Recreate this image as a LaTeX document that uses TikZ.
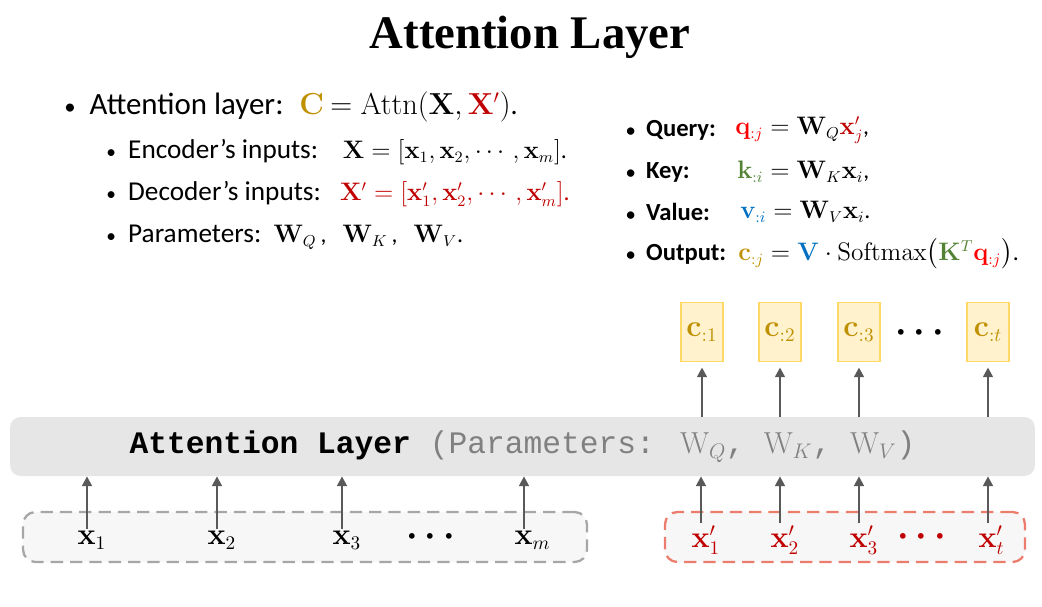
\documentclass[tikz,border=0pt]{standalone}
\usepackage[no-math]{fontspec}
\usepackage{amsmath}
\setmainfont{Carlito}
\newfontfamily\titlefont{Liberation Serif}
\newfontfamily\codefont{Liberation Mono}
\usetikzlibrary{arrows.meta}
\definecolor{gold}{HTML}{BF9000}
\definecolor{dred}{HTML}{C00000}
\definecolor{qred}{HTML}{FF0000}
\definecolor{kgreen}{HTML}{548235}
\definecolor{vblue}{HTML}{0070C0}
\definecolor{arrgray}{HTML}{595959}
\definecolor{layerfill}{HTML}{E6E6E6}
\definecolor{cfill}{HTML}{FFF2CC}
\definecolor{cdraw}{HTML}{FFD966}
\definecolor{dgray}{HTML}{A6A6A6}
\definecolor{dsalmon}{HTML}{EC7C6C}
\definecolor{infill}{HTML}{F7F7F7}
\definecolor{partext}{HTML}{808080}
\newcommand{\rsub}[1]{_{\rlap{$\scriptstyle #1$}}}
\newcommand{\xp}[1]{\mathbf{x}^{\rlap{$\scriptstyle\prime$}}_{\rlap{$\scriptstyle #1$}}}
\newcommand{\bul}[1]{{\fontsize{#1}{10}\selectfont\textbullet}\hspace{0.45em}}
\newcommand{\mth}[2]{{\fontsize{#1}{18}\selectfont #2}}
\tikzset{
  txt/.style={anchor=west, inner sep=0pt},
  big/.style={font=\fontsize{17.6}{21}\selectfont},
  small/.style={font=\fontsize{15.5}{19}\selectfont},
  rbul/.style={font=\fontsize{14}{16}\selectfont\bfseries},
  rmath/.style={anchor=west, inner sep=0pt, font=\fontsize{13.5}{16}\selectfont},
  cbox/.style={draw=cdraw, fill=cfill, line width=0.8pt, minimum width=0.84cm, minimum height=1.18cm, inner sep=0pt, text=gold, font=\fontsize{16}{18}\selectfont},
  layerbox/.style={fill=layerfill, rounded corners=6pt, minimum width=20.5cm, minimum height=1.18cm, inner sep=0pt},
  inbox/.style={dashed, dash pattern=on 7pt off 4pt, line width=1.3pt, fill=infill, rounded corners=7pt, minimum height=1cm, inner sep=0pt},
  inlab/.style={font=\fontsize{16}{18}\selectfont, inner sep=1pt},
  arr/.style={draw=arrgray, line width=1.3pt, -{Triangle[length=5.5pt,width=5.5pt]}},
  dotsn/.style={font=\fontsize{20}{22}\selectfont, inner sep=0pt}
}
\begin{document}
\begin{tikzpicture}[x=0.02cm, y=-0.02cm]
\useasboundingbox (0,0) rectangle (1042,606);
% title
\node (title) at (530,37) {\titlefont\bfseries\fontsize{26.6}{30}\selectfont Attention Layer};
% left bullets
\node[txt, big] (b1) at (64,107) {\bul{13}Attention layer:\hspace{9pt}\mth{16}{$\color{gold}\mathbf{C}$ $=\mathrm{Attn}(\mathbf{X},{\color{dred}\mathbf{X}'})$.}};
\node[txt, small] (b2) at (106,152) {\bul{11}Encoder's inputs:\hspace{14pt}\mth{13.5}{$\mathbf{X}=[\mathbf{x}_1,\mathbf{x}_2,\cdots,\mathbf{x}_m]$.}};
\node[txt, small] (b3) at (106,194) {\bul{11}Decoder's inputs:\hspace{11pt}\mth{13.5}{\color{dred}$\mathbf{X}'=[\mathbf{x}'_1,\mathbf{x}'_2,\cdots,\mathbf{x}'_m]$.}};
\node[txt, small] (b4) at (106,237) {\bul{11}Parameters:\hspace{7pt}\mth{13.5}{$\mathbf{W}_Q$\,,\ \ \ $\mathbf{W}_K$\,,\ \ \ $\mathbf{W}_V$.}};
% right bullets
\node[txt, rbul] (rq) at (626,130) {\bul{10}Query:};
\node[txt, rbul] (rk) at (626,172) {\bul{10}Key:};
\node[txt, rbul] (rv) at (626,212) {\bul{10}Value:};
\node[txt, rbul] (ro) at (626,254) {\bul{10}Output:};
\node[rmath] (mq) at (735,130) {${\color{qred}\mathbf{q}_{:j}}=\mathbf{W}_Q{\color{dred}\mathbf{x}'_j}$,};
\node[rmath] (mk) at (737,172) {${\color{kgreen}\mathbf{k}_{:i}}=\mathbf{W}_K\mathbf{x}_i$,};
\node[rmath] (mv) at (740,212) {${\color{vblue}\mathbf{v}_{:i}}=\mathbf{W}_V\mathbf{x}_i$.};
\node[rmath] (mo) at (738,254) {${\color{gold}\mathbf{c}_{:j}}={\color{vblue}\mathbf{V}}\cdot\mathrm{Softmax}\big({\color{kgreen}\mathbf{K}^T}{\color{qred}\mathbf{q}_{:j}}\big)$.};
% output boxes
\node[cbox] (c1) at (702,332) {$\mathbf{c}_{:1}$};
\node[cbox] (c2) at (780,332) {$\mathbf{c}_{:2}$};
\node[cbox] (c3) at (859,332) {$\mathbf{c}_{:3}$};
\node[dotsn] (cd) at (923,333) {$\boldsymbol{\cdots}$};
\node[cbox] (ct) at (988,332) {$\mathbf{c}_{:t}$};
% layer
\node[layerbox] (layer) at (522.5,446.5) {\fontsize{17.8}{20}\selectfont{\codefont\bfseries Attention Layer\ }{\color{partext}\codefont(Parameters: \mth{18}{$\mathrm{W}_Q$}, \mth{18}{$\mathrm{W}_K$}, \mth{18}{$\mathrm{W}_V$})}};
% input boxes
\node[inbox, draw=dgray, minimum width=11.28cm] (enc) at (305,537) {};
\node[inbox, draw=dsalmon, minimum width=7.2cm] (dec) at (845,537) {};
\node[inlab] (x1) at (87,540) {$\mathbf{x}\rsub{1}$};
\node[inlab] (x2) at (217,540) {$\mathbf{x}\rsub{2}$};
\node[inlab] (x3) at (342,540) {$\mathbf{x}\rsub{3}$};
\node[dotsn] (xd) at (434,537) {$\boldsymbol{\cdots}$};
\node[inlab] (xm) at (524,540) {$\mathbf{x}\rsub{m}$};
\node[inlab, text=dred] (y1) at (701,540) {$\xp{1}$};
\node[inlab, text=dred] (y2) at (780,540) {$\xp{2}$};
\node[inlab, text=dred] (y3) at (859,540) {$\xp{3}$};
\node[dotsn, text=dred] (yd) at (925,537) {$\boldsymbol{\cdots}$};
\node[inlab, text=dred] (yt) at (988,540) {$\xp{t}$};
% arrows
\foreach \n in {x1,x2,x3,xm,y1,y2,y3,yt} \draw[arr] (\n.north) -- (\n |- layer.south);
\foreach \n in {c1,c2,c3,ct} \draw[arr, shorten >=3pt] (\n |- layer.north) -- (\n.south);
\end{tikzpicture}
\end{document}
